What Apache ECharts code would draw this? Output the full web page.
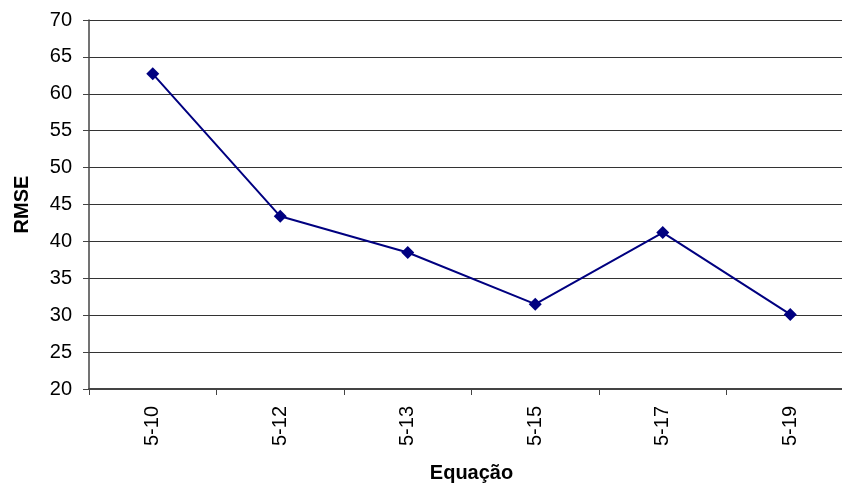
<!DOCTYPE html>
<html>
<head>
<meta charset="utf-8">
<script src="https://cdn.jsdelivr.net/npm/echarts@6/dist/echarts.min.js"></script>
<style>
  html, body { margin: 0; padding: 0; background: #fff; overflow: hidden; }
  #chart { width: 842px; height: 486px; }
</style>
</head>
<body>
<div id="chart"></div>
<script>
// values
const categories = ['5-10', '5-12', '5-13', '5-15', '5-17', '5-19'];
const rmseValues = [62.7, 43.4, 38.5, 31.5, 41.2, 30.1];
const yMin = 20;
const yMax = 70;
const yStep = 5;

const FONT = 'Liberation Sans, Arial, sans-serif';

const chart = echarts.init(document.getElementById('chart'));

chart.setOption({
  backgroundColor: '#ffffff',
  animation: false,
  grid: {
    left: 89,
    width: 765, // plot runs past the right edge of the picture, as in the reference
    top: 20,
    bottom: 97,
    containLabel: false,
    outerBoundsMode: 'none',
  },
  xAxis: {
    type: 'category',
    data: categories,
    boundaryGap: true,
    name: 'Equação',
    nameLocation: 'middle',
    nameGap: 74,
    nameTextStyle: { fontFamily: FONT, fontSize: 20, fontWeight: 'bold', color: '#000' },
    axisLine: { lineStyle: { color: '#444', width: 2 } },
    axisTick: { show: true, length: 6, lineStyle: { color: '#444' } },
    axisLabel: { rotate: 90, margin: 17, fontFamily: FONT, fontSize: 20, color: '#000' },
    splitLine: { show: false },
  },
  yAxis: {
    type: 'value',
    min: yMin,
    max: yMax,
    interval: yStep,
    name: 'RMSE',
    nameLocation: 'middle',
    nameGap: 57,
    nameTextStyle: { fontFamily: FONT, fontSize: 20, fontWeight: 'bold', color: '#000' },
    axisLine: { show: true, lineStyle: { color: '#444', width: 1.5 } },
    axisTick: { show: true, length: 6, lineStyle: { color: '#444' } },
    axisLabel: { margin: 17, fontFamily: FONT, fontSize: 20, color: '#000' },
    splitLine: { show: true, lineStyle: { color: '#333', width: 1 } },
  },
  series: [
    {
      name: 'RMSE',
      type: 'line',
      data: rmseValues,
      symbol: 'diamond',
      symbolSize: 13,
      lineStyle: { color: '#000080', width: 2 },
      itemStyle: { color: '#000080' },
    },
  ],
});
</script>
</body>
</html>
